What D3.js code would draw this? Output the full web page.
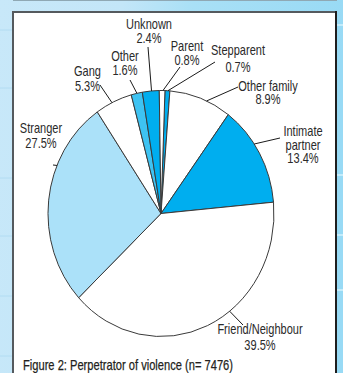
<!DOCTYPE html>
<html>
<head>
<meta charset="utf-8">
<script src="https://cdn.jsdelivr.net/npm/d3@7"></script>
<style>
  html, body { margin: 0; padding: 0; background: #c6e7f9; }
  svg { display: block; }
</style>
</head>
<body>
<svg id="chart" width="343" height="373"></svg>
<script>
// ---- data ----
const categories = ["Stepparent", "Other family", "Intimate partner", "Friend/Neighbour", "Stranger", "Gang", "Other", "Unknown", "Parent"];
const values = [0.7, 8.9, 13.4, 39.5, 27.5, 5.3, 1.6, 2.4, 0.8];
const valueLabels = ["0.7%", "8.9%", "13.4%", "39.5%", "27.5%", "5.3%", "1.6%", "2.4%", "0.8%"];
const labelLines = [["Stepparent"], ["Other family"], ["Intimate", "partner"], ["Friend/Neighbour"], ["Stranger"], ["Gang"], ["Other"], ["Unknown"], ["Parent"]];
const sliceColors = ["#00aeef", "#ffffff", "#00aeef", "#ffffff", "#abe1f9", "#ffffff", "#3ec3f2", "#00aeef", "#ffffff"];
const title = "Figure 2: Perpetrator of violence (n= 7476)";

// ---- layout (label anchors, leader line ends, anchor angle on rim in degrees) ----
const labelPos = [
  {x: 238, y: 55, dy: 17, lx: 215, ly: 62, a: 3.5},
  {x: 268, y: 90.5, dy: 13, lx: 238, ly: 87, a: 23.8},
  {x: 303, y: 136, dy: 13.5, lx: 280, ly: 138, a: 55.6},
  {x: 260, y: 334, dy: 16, lx: 243, ly: 325, a: 142.6},
  {x: 41, y: 132.5, dy: 15.5, lx: 53, ly: 165, a: 293},
  {x: 87.5, y: 76, dy: 14.7, lx: 100, ly: 85, a: 334.3},
  {x: 125, y: 60.7, dy: 14.3, lx: 130, ly: 80, a: 347.7},
  {x: 149, y: 29.3, dy: 14, lx: 148, ly: 47, a: 355.2},
  {x: 187, y: 51, dy: 14, lx: 180, ly: 67, a: 361}
];

const W = 343, H = 373;
const cx = 161, cy = 213.5, rx = 113, ry = 123;
const startDeg = 2;
const squeeze = 0.8;

const svg = d3.select("#chart");
const defs = svg.append("defs");

// background
const bgGrad = defs.append("linearGradient").attr("id", "bg").attr("x1", "0").attr("x2", "1").attr("y1", "0").attr("y2", "0.15");
bgGrad.append("stop").attr("offset", "0").attr("stop-color", "#c8e8f9");
bgGrad.append("stop").attr("offset", "0.35").attr("stop-color", "#c3e6f8");
bgGrad.append("stop").attr("offset", "0.55").attr("stop-color", "#a9e0f6");
bgGrad.append("stop").attr("offset", "1").attr("stop-color", "#98daf5");
svg.append("rect").attr("width", W).attr("height", H).attr("fill", "url(#bg)");

// faint stripes on margins
[30, 88, 178, 236, 296, 356].forEach(y => {
  svg.append("line").attr("x1", 0).attr("x2", 12).attr("y1", y).attr("y2", y)
    .attr("stroke", "#b2dcf2").attr("stroke-width", 1);
});
[25, 175, 235, 290].forEach(y => {
  svg.append("line").attr("x1", 337).attr("x2", 343).attr("y1", y).attr("y2", y)
    .attr("stroke", "#c4ecfb").attr("stroke-width", 2);
});

// top grey line
svg.append("line").attr("x1", 13).attr("x2", 337).attr("y1", 0.5).attr("y2", 0.5)
  .attr("stroke", "#8fa8b4").attr("stroke-width", 1);

// panel
svg.append("rect").attr("x", 13).attr("y", 12).attr("width", 323).attr("height", H)
  .attr("fill", "#ffffff").attr("stroke", "#555a5e").attr("stroke-width", 2);
svg.append("line").attr("x1", 336).attr("x2", 336).attr("y1", 11).attr("y2", H)
  .attr("stroke", "#1e1e1e").attr("stroke-width", 2);

// pie
const total = d3.sum(values);
const pie = d3.pie().sort(null).value(d => d)
  .startAngle(startDeg * Math.PI / 180)
  .endAngle(startDeg * Math.PI / 180 + 2 * Math.PI * total / 100);
const arcs = pie(values);
const arc = d3.arc().innerRadius(0).outerRadius(ry);

const g = svg.append("g").attr("transform", `translate(${cx},${cy}) scale(${rx / ry},1)`);
g.selectAll("path").data(arcs).join("path")
  .attr("d", arc)
  .attr("fill", (d, i) => sliceColors[i])
  .attr("stroke", "#3a3a3a")
  .attr("stroke-width", 1)
  .attr("stroke-linejoin", "round")
  .attr("vector-effect", "non-scaling-stroke");

// leader lines
const rimPoint = deg => {
  const t = deg * Math.PI / 180;
  return [cx + rx * Math.sin(t), cy - ry * Math.cos(t)];
};
svg.selectAll("line.leader").data(labelPos).join("line")
  .attr("class", "leader")
  .attr("x1", d => rimPoint(d.a)[0]).attr("y1", d => rimPoint(d.a)[1])
  .attr("x2", d => d.lx).attr("y2", d => d.ly)
  .attr("stroke", "#1a1a1a").attr("stroke-width", 1);

// labels (horizontally condensed to mimic a narrow face)
const labelFont = "'Liberation Sans', Arial, sans-serif";
categories.forEach((c, i) => {
  const p = labelPos[i];
  const lines = labelLines[i].concat([valueLabels[i]]);
  lines.forEach((ln, j) => {
    svg.append("text")
      .attr("transform", `translate(${p.x},${p.y + j * p.dy}) scale(${squeeze},1)`)
      .attr("text-anchor", "middle")
      .attr("font-family", labelFont)
      .attr("font-size", 13.8)
      .attr("fill", "#2a2a2a")
      .text(ln);
  });
});

// title
svg.append("text")
  .attr("x", 23).attr("y", 369.5)
  .attr("font-family", labelFont)
  .attr("font-size", 14.5)
  .attr("fill", "#231f20")
  .attr("stroke", "#231f20")
  .attr("stroke-width", 0.25)
  .attr("textLength", 210)
  .attr("lengthAdjust", "spacingAndGlyphs")
  .text(title);
</script>
</body>
</html>
